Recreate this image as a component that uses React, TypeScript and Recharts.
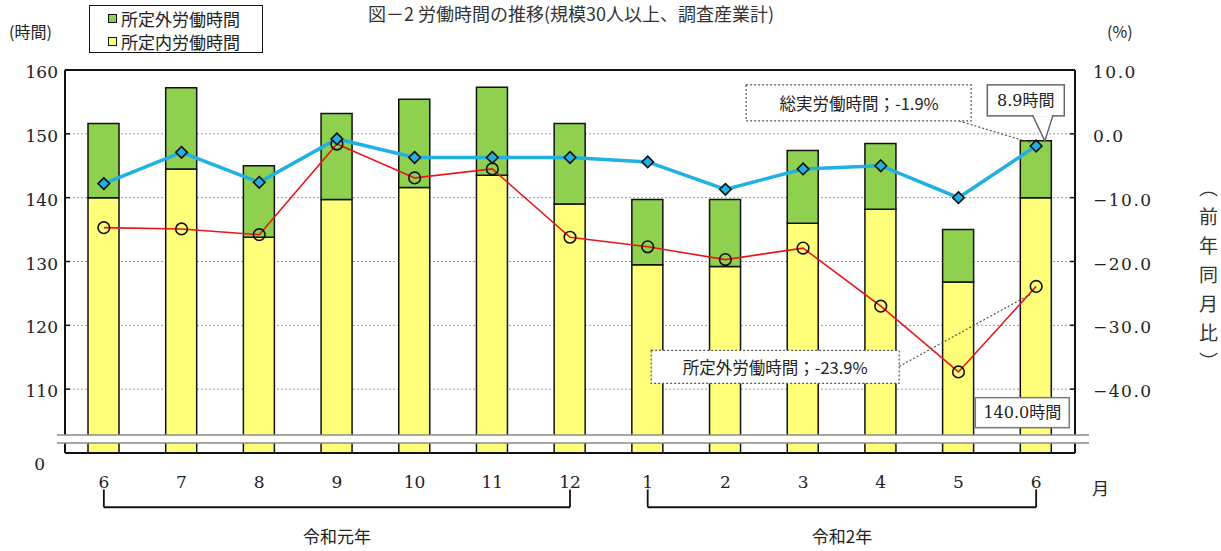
import React from 'react';
import {
  ComposedChart,
  Bar,
  Line,
  XAxis,
  YAxis,
  CartesianGrid,
  ReferenceLine,
  ReferenceArea,
  LabelList,
  Legend,
} from 'recharts';

// 月（令和元年6月〜令和2年6月）
const months = ['6', '7', '8', '9', '10', '11', '12', '1', '2', '3', '4', '5', '6'];
// 所定内労働時間（時間）
const scheduledHours = [140.0, 144.5, 133.8, 139.7, 141.6, 143.5, 139.0, 129.5, 129.2, 136.0, 138.2, 126.8, 140.0];
// 所定外労働時間（時間）
const overtimeHours = [11.6, 12.7, 11.2, 13.5, 13.8, 13.8, 12.6, 10.2, 10.5, 11.4, 10.3, 8.2, 8.9];
// 総実労働時間 前年同月比（%）
const totalYoY = [-7.8, -2.9, -7.6, -0.8, -3.7, -3.7, -3.7, -4.4, -8.7, -5.5, -5.0, -10.0, -1.9];
// 所定外労働時間 前年同月比（%）
const overtimeYoY = [-14.7, -14.9, -15.8, -1.6, -6.9, -5.5, -16.2, -17.7, -19.7, -17.9, -27.0, -37.3, -23.9];

const leftTicks = [100, 110, 120, 130, 140, 150, 160];
const rightTicks = [-50, -40, -30, -20, -10, 0, 10];
const boundaryTicks = [1, 2, 3, 4, 5, 6, 7, 8, 9, 10, 11, 12];
const eras = [
  { label: '令和元年', from: 0, to: 6 },
  { label: '令和2年', from: 7, to: 12 },
];

const data = months.map((m, i) => ({
  key: String(i),
  month: m,
  scheduled: scheduledHours[i],
  overtime: overtimeHours[i],
  totalYoY: totalYoY[i],
  overtimeYoY: overtimeYoY[i],
}));

const SERIF = "'DejaVu Serif', 'Liberation Serif', 'Noto Sans CJK JP', serif";
const CJK = "'Noto Sans CJK JP', sans-serif";
const INK = '#222';
const LAST = data.length - 1;

const LeftTick = (p: any) => {
  const v = p.payload.value;
  if (v === 100) {
    return (
      <text x={p.x - 13} y={p.y + 11} textAnchor="end" dominantBaseline="central" fontFamily={SERIF} fontSize={17} fill={INK}>
        0
      </text>
    );
  }
  return (
    <text x={p.x} y={p.y + 2} textAnchor="end" dominantBaseline="central" fontFamily={SERIF} fontSize={17} fill={INK}>
      {v}
    </text>
  );
};

const RightTick = (p: any) => {
  const v = p.payload.value;
  if (v === -50) return null;
  return (
    <text x={p.x} y={p.y + 2} textAnchor="start" dominantBaseline="central" fontFamily={SERIF} fontSize={17} fill={INK} letterSpacing={1.5}>
      {v.toFixed(1).replace('-', '−')}
    </text>
  );
};

const MonthTick = (p: any) => (
  <text x={p.x} y={p.y + 27} textAnchor="middle" dominantBaseline="central" fontFamily={SERIF} fontSize={17} fill={INK}>
    {data[p.index]?.month ?? ''}
  </text>
);

const EmptyTick = () => <g />;

const Diamond = (p: any) => {
  const { cx, cy } = p;
  if (cx == null || cy == null) return null;
  const s = 5.8;
  return (
    <path
      key={`d-${p.index}`}
      d={`M${cx} ${cy - s} L${cx + s} ${cy} L${cx} ${cy + s} L${cx - s} ${cy} Z`}
      fill="#1fb0e4"
      stroke="#111"
      strokeWidth={1.6}
    />
  );
};

const TotalNote = (p: any) => {
  if (p.index !== LAST) return null;
  const { x, y } = p;
  return (
    <g>
      <line x1={x - 77} y1={y - 25} x2={x - 5} y2={y - 3} stroke="#555" strokeWidth={1.2} strokeDasharray="2 2" />
      <rect x={x - 290} y={y - 61} width={225} height={36} fill="#fff" stroke="#555" strokeWidth={1.2} strokeDasharray="2 2" />
      <text x={x - 177} y={y - 43} textAnchor="middle" dominantBaseline="central" fontFamily={CJK} fontSize={16.5} fill={INK}>
        総実労働時間；-1.9%
      </text>
    </g>
  );
};

const OvertimeNote = (p: any) => {
  if (p.index !== LAST) return null;
  const { x, y } = p;
  return (
    <g>
      <line x1={x - 137} y1={y + 80} x2={x - 6} y2={y + 8} stroke="#555" strokeWidth={1.2} strokeDasharray="2 2" />
      <rect x={x - 385} y={y + 64} width={248} height={33} fill="#fff" stroke="#555" strokeWidth={1.2} strokeDasharray="2 2" />
      <text x={x - 261} y={y + 81} textAnchor="middle" dominantBaseline="central" fontFamily={CJK} fontSize={16.5} fill={INK}>
        所定外労働時間；-23.9%
      </text>
    </g>
  );
};

const OvertimeBarNote = (p: any) => {
  if (p.index !== LAST) return null;
  const cx = p.x + p.width / 2;
  const y = p.y;
  return (
    <g>
      <rect x={cx - 48.5} y={y - 56} width={77} height={31} fill="#fff" stroke="#666" strokeWidth={1.5} />
      <polygon points={`${cx - 3},${y - 25} ${cx + 17},${y - 25} ${cx + 9},${y}`} fill="#fff" stroke="#666" strokeWidth={1.5} />
      <line x1={cx - 2} y1={y - 25} x2={cx + 16} y2={y - 25} stroke="#fff" strokeWidth={2} />
      <text x={cx - 10} y={y - 40} textAnchor="middle" dominantBaseline="central" fontFamily={SERIF} fontSize={16} fill={INK}>
        8.9時間
      </text>
    </g>
  );
};

const ScheduledBarNote = (p: any) => {
  if (p.index !== LAST) return null;
  const cx = p.x + p.width / 2;
  const y = p.y;
  return (
    <g>
      <rect x={cx - 60.5} y={y + 200} width={94} height={30} fill="#fff" stroke="#777" strokeWidth={1.5} />
      <text x={cx - 13.5} y={y + 215} textAnchor="middle" dominantBaseline="central" fontFamily={SERIF} fontSize={16} fill={INK}>
        140.0時間
      </text>
    </g>
  );
};

const BreakMark = (p: any) => {
  const { x, y, width, height } = p;
  return (
    <g>
      <rect x={x - 8} y={y} width={width + 22} height={height} fill="#fff" />
      <line x1={x - 8} x2={x + width + 14} y1={y} y2={y} stroke="#8a8a8a" strokeWidth={1.6} />
      <line x1={x - 8} x2={x + width + 14} y1={y + height} y2={y + height} stroke="#8a8a8a" strokeWidth={1.6} />
    </g>
  );
};

const LegendBox = () => (
  <div
    style={{
      width: 174,
      height: 48,
      border: '1.5px solid #111',
      background: '#fff',
      fontFamily: CJK,
      fontSize: 17,
      color: INK,
      lineHeight: '23px',
      padding: '1px 0 0 18px',
      boxSizing: 'border-box',
    }}
  >
    {[
      { name: '所定外労働時間', color: '#8fd14f' },
      { name: '所定内労働時間', color: '#ffff7a' },
    ].map((e) => (
      <div key={e.name} style={{ display: 'flex', alignItems: 'center' }}>
        <span style={{ width: 7, height: 7, border: '1.5px solid #111', background: e.color, marginRight: 4 }} />
        {e.name}
      </div>
    ))}
  </div>
);

export default function App() {
  return (
    <div style={{ position: 'absolute', left: 0, top: 0, width: 1221, height: 551, background: '#fff' }}>
      <div
        style={{
          position: 'absolute',
          left: 0,
          width: 1142,
          top: 2,
          textAlign: 'center',
          fontFamily: CJK,
          fontSize: 18,
          lineHeight: '22px',
          color: '#333',
          whiteSpace: 'nowrap',
        }}
      >
        図－2 労働時間の推移(規模30人以上、調査産業計)
      </div>
      <div style={{ position: 'absolute', left: 9, top: 19, fontFamily: CJK, fontSize: 16, color: INK }}>(時間)</div>
      <div style={{ position: 'absolute', left: 1107, top: 19, fontFamily: CJK, fontSize: 16, color: INK }}>(%)</div>
      <div style={{ position: 'absolute', left: 1092, top: 475, fontFamily: CJK, fontSize: 17, color: INK }}>月</div>
      <div
        style={{
          position: 'absolute',
          left: 1195,
          top: 178,
          writingMode: 'vertical-rl',
          fontFamily: CJK,
          fontSize: 19,
          letterSpacing: 10,
          color: '#333',
        }}
      >
        （前年同月比）
      </div>
      <ComposedChart width={1221} height={551} data={data} margin={{ top: 70, right: 0, bottom: 0, left: 0 }}>
        <CartesianGrid yAxisId="left" vertical={false} stroke="#9a9a9a" strokeDasharray="2 2" />
        <XAxis
          xAxisId="b"
          type="number"
          domain={[0, 13]}
          ticks={boundaryTicks}
          tick={<EmptyTick />}
          tickSize={-5}
          axisLine={false}
          tickLine={{ stroke: '#111', strokeWidth: 1.5 }}
          height={0}
        />
        <XAxis
          dataKey="key"
          tick={<MonthTick />}
          tickLine={false}
          tickSize={0}
          interval={0}
          axisLine={{ stroke: '#111', strokeWidth: 2 }}
          height={98}
        />
        <YAxis
          yAxisId="left"
          domain={[100, 160]}
          allowDataOverflow
          ticks={leftTicks}
          interval={0}
          tick={<LeftTick />}
          tickSize={-5}
          tickMargin={12}
          tickLine={{ stroke: '#111', strokeWidth: 1.5 }}
          axisLine={{ stroke: '#111', strokeWidth: 2 }}
          width={65}
        />
        <YAxis
          yAxisId="right"
          orientation="right"
          domain={[-50, 10]}
          ticks={rightTicks}
          interval={0}
          tick={<RightTick />}
          tickSize={-5}
          tickMargin={23}
          tickLine={{ stroke: '#111', strokeWidth: 1.5 }}
          axisLine={{ stroke: '#111', strokeWidth: 2 }}
          width={146}
        />
        <Legend
          layout="vertical"
          align="center"
          verticalAlign="middle"
          content={<LegendBox />}
          wrapperStyle={{ left: 89, top: 5, width: 174, height: 48 }}
        />
        <Bar
          yAxisId="left"
          dataKey="scheduled"
          name="所定内労働時間"
          stackId="hours"
          fill="#ffff7a"
          stroke="#111"
          strokeWidth={1.5}
          barSize={31}
          isAnimationActive={false}
        >
          <LabelList dataKey="scheduled" content={<ScheduledBarNote />} />
        </Bar>
        <Bar
          yAxisId="left"
          dataKey="overtime"
          name="所定外労働時間"
          stackId="hours"
          fill="#8fd14f"
          stroke="#111"
          strokeWidth={1.5}
          barSize={31}
          isAnimationActive={false}
        >
          <LabelList dataKey="overtime" content={<OvertimeBarNote />} />
        </Bar>
        <Line
          yAxisId="right"
          dataKey="overtimeYoY"
          stroke="#e8161c"
          strokeWidth={1.6}
          dot={{ r: 5.8, fill: 'none', stroke: '#111', strokeWidth: 1.6 }}
          legendType="none"
          isAnimationActive={false}
        >
          <LabelList dataKey="overtimeYoY" content={<OvertimeNote />} />
        </Line>
        <Line
          yAxisId="right"
          dataKey="totalYoY"
          stroke="#1fb0e4"
          strokeWidth={3.5}
          dot={<Diamond />}
          legendType="none"
          isAnimationActive={false}
        >
          <LabelList dataKey="totalYoY" content={<TotalNote />} />
        </Line>
        <ReferenceLine yAxisId="left" y={160} stroke="#111" strokeWidth={2} />
        {eras.map((e) => (
          <ReferenceLine
            key={e.label}
            yAxisId="left"
            ifOverflow="visible"
            segment={[
              { x: String(e.from), y: 91.5 },
              { x: String(e.to), y: 91.5 },
            ]}
            stroke="#111"
            strokeWidth={1.8}
            label={{ value: e.label, position: 'bottom', offset: 24, fontFamily: CJK, fontSize: 17, fill: INK }}
          />
        ))}
        {eras.flatMap((e) =>
          [e.from, e.to].map((i) => (
            <ReferenceLine
              key={`${e.label}-${i}`}
              yAxisId="left"
              ifOverflow="visible"
              segment={[
                { x: String(i), y: 94.3 },
                { x: String(i), y: 91.5 },
              ]}
              stroke="#111"
              strokeWidth={1.8}
            />
          ))
        )}
        <ReferenceArea
          yAxisId="left"
          y1={101.57}
          y2={102.83}
          ifOverflow="visible"
          shape={<BreakMark />}
          {...({ zIndex: 550 } as any)}
        />
      </ComposedChart>
    </div>
  );
}
